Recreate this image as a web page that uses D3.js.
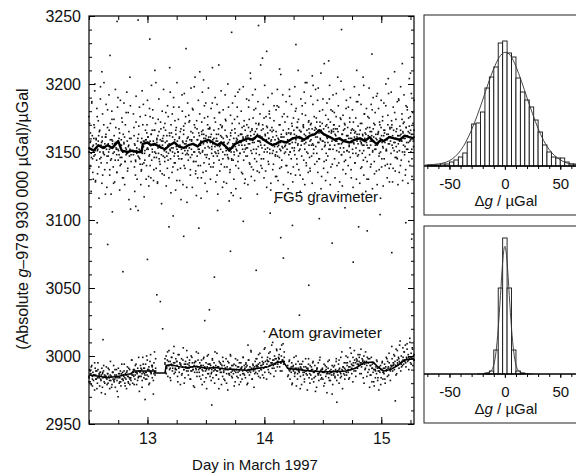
<!DOCTYPE html>
<html>
<head>
<meta charset="utf-8">
<script src="https://cdn.jsdelivr.net/npm/d3@7"></script>
<style>
  body { margin: 0; background: #fff; }
  svg { display: block; font-family: "Liberation Sans", Arial, Helvetica, sans-serif; }
</style>
</head>
<body>
<svg id="chart" width="576" height="476"></svg>
<script>
// ---- FG5 drops (µGal), regular sampling inside each run ----
const fg5Seg1 = [12.50, 12.86];
const fg5Vals1 = [
  3153,3171,3140,3158,3149,3186,3162,3135,3155,3147,3168,3151,
  3129,3160,3144,3176,3152,3158,3139,3165,3150,3198,3146,3157,
  3161,3133,3154,3170,3148,3156,3119,3163,3152,3142,3181,3155,
  3150,3166,3137,3159,3153,3145,3174,3158,3149,3127,3162,3156,
  3144,3168,3152,3135,3157,3190,3151,3148,3164,3140,3155,3159,
  3146,3172,3150,3131,3156,3161,3143,3153,3179,3149,3158,3138,
  3154,3165,3147,3152,3108,3160
];
const fg5Vals1b = [
  3176,3138,3164,3121,3187,3145,3130,3170,3195,3128,3159,3182,
  3134,3173,3116,3166,3189,3142,3127,3178,3150,3201,3137,3161,
  3185,3124,3168,3147,3192,3133,3171,3119,3180,3156,3139,3174,
  3128,3196,3153,3135,3183,3144,3167,3122,3188,3141,3175,3131,
  3163,3186,3126,3170,3148,3194,3136,3179,3115,3160,3184,3143
];
const fg5Vals1c = [
  3150,3157,3146,3154,3160,3148,3156,3151,3162,3145,3155,3158,
  3149,3153,3161,3147,3156,3152,3144,3159,3154,3150,3157,3148,
  3152,3160,3146,3155,3150,3157,3143,3152,3149,3155,3151,3148
];
const fg5Seg2 = [12.88, 15.28];
const fg5Vals2 = [
  3150,3168,3139,3155,3144,3172,3151,3130,3158,3147,3163,3152,
  3145,3176,3157,3136,3160,3149,3154,3185,3142,3158,3151,3166,
  3159,3140,3170,3153,3161,3132,3157,3148,3176,3155,3163,3144,
  3152,3181,3158,3137,3166,3150,3155,3201,3146,3159,3127,3162,
  3149,3165,3155,3141,3172,3153,3158,3134,3160,3147,3168,3151,
  3143,3157,3179,3150,3162,3138,3155,3149,3095,3164,3152,3145,
  3170,3156,3135,3161,3153,3183,3147,3159,3142,3166,3154,3129,
  3158,3150,3174,3145,3161,3155,3138,3167,3152,3192,3149,3157,
  3163,3140,3156,3171,3148,3153,3124,3160,3151,3144,3177,3155,
  3159,3137,3165,3152,3148,3182,3156,3143,3161,3150,3168,3134,
  3155,3173,3147,3159,3140,3164,3152,3209,3149,3158,3131,3163,
  3150,3166,3156,3142,3175,3153,3160,3136,3158,3148,3170,3154,
  3161,3145,3168,3157,3139,3163,3152,3186,3159,3147,3166,3058,
  3154,3172,3149,3160,3133,3158,3151,3167,3144,3179,3155,3162,
  3141,3157,3169,3150,3160,3128,3155,3148,3174,3153,3162,3139,
  3156,3146,3183,3152,3159,3137,3164,3150,3145,3171,3153,3118,
  3160,3148,3167,3154,3140,3158,3151,3176,3143,3162,3155,3196,
  3149,3163,3157,3135,3168,3152,3160,3144,3173,3155,3130,3161,
  3153,3170,3147,3162,3156,3188,3142,3159,3165,3151,3139,3166,
  3157,3175,3152,3163,3145,3160,3182,3149,3167,3136,3158,3154,
  3171,3148,3162,3157,3140,3166,3153,3219,3159,3145,3175,3155,
  3163,3136,3158,3169,3150,3164,3143,3160,3178,3152,3166,3127,
  3156,3168,3149,3161,3141,3173,3154,3159,3132,3165,3150,3184,
  3147,3160,3155,3170,3138,3157,3151,3163,3144,3176,3153,3072,
  3161,3149,3172,3155,3140,3164,3152,3158,3135,3167,3156,3191,
  3150,3163,3145,3171,3157,3160,3139,3166,3153,3148,3180,3159,
  3162,3141,3168,3156,3174,3151,3160,3133,3165,3155,3147,3178,
  3158,3169,3144,3163,3152,3186,3157,3140,3166,3161,3149,3172,
  3155,3164,3138,3170,3159,3147,3167,3156,3199,3152,3163,3141,
  3168,3154,3175,3149,3161,3135,3166,3157,3145,3172,3159,3123,
  3164,3152,3181,3158,3167,3143,3163,3155,3177,3149,3170,3160,
  3147,3168,3161,3189,3155,3172,3139,3166,3158,3180,3152,3165,
  3170,3145,3163,3158,3176,3151,3167,3205,3156,3142,3169,3160,
  3153,3174,3148,3163,3157,3137,3166,3150,3171,3159,3144,3182,
  3162,3151,3168,3140,3160,3155,3175,3146,3164,3131,3157,3167,
  3149,3172,3156,3161,3142,3165,3153,3187,3158,3147,3169,3095,
  3160,3151,3166,3138,3157,3171,3149,3162,3144,3155,3178,3159,
  3146,3163,3157,3130,3168,3153,3160,3175,3148,3165,3155,3141,
  3162,3181,3151,3167,3158,3143,3170,3155,3163,3136,3159,3193,
  3156,3165,3147,3172,3160,3150,3168,3139,3157,3176,3153,3162,
  3145,3166,3159,3184,3152,3163,3141,3170,3156,3161,3128,3167,
  3158,3149,3173,3155,3162,3138,3166,3151,3179,3146,3160,3154,
  3167,3145,3162,3156,3188,3151,3169,3140,3163,3158,3174,3150,
  3164,3155,3172,3148,3160,3137,3168,3157,3183,3152,3165,3143,
  3169,3158,3176,3150,3163,3145,3160,3171,3154,3166
];
const fg5Vals2b = [
  3178,3162,3121,3133,3191,3149,3150,3107,3169,3183,3141,3126,
  3137,3195,3170,3158,3117,3144,3177,3130,3164,3188,3152,3125,
  3182,3140,3131,3199,3166,3175,3129,3146,3210,3171,3138,3160,
  3128,3174,3189,3143,3136,3167,3112,3180,3158,3196,3133,3171,
  3166,3125,3147,3184,3176,3131,3162,3194,3120,3153,3178,3139,
  3190,3142,3173,3122,3168,3201,3137,3150,3183,3129,3165,3115,
  3145,3180,3126,3169,3193,3138,3176,3158,3113,3186,3148,3172,
  3173,3133,3197,3159,3124,3181,3143,3170,3205,3136,3118,3167,
  3131,3188,3150,3178,3140,3116,3172,3194,3135,3163,3184,3127,
  3186,3146,3121,3176,3197,3141,3167,3130,3182,3154,3212,3139,
  3142,3175,3190,3128,3163,3185,3119,3149,3179,3136,3170,3195,
  3168,3124,3181,3157,3139,3192,3173,3127,3161,3200,3145,3114,
  3135,3177,3120,3166,3186,3144,3130,3174,3191,3123,3160,3183,
  3194,3138,3171,3149,3116,3180,3163,3134,3198,3169,3127,3152,
  3147,3189,3162,3126,3183,3174,3141,3204,3132,3167,3192,3137,
  3181,3129,3196,3171,3143,3119,3187,3158,3135,3178,3214,3145,
  3138,3170,3185,3131,3199,3152,3176,3124,3168,3190,3141,3180,
  3175,3122,3159,3193,3137,3166,3184,3113,3148,3181,3132,3196,
  3129,3183,3146,3170,3207,3139,3161,3192,3126,3178,3154,3118,
  3187,3140,3176,3123,3164,3196,3150,3134,3185,3169,3128,3175,
  3151,3198,3133,3182,3145,3172,3210,3137,3166,3121,3189,3158,
  3184,3130,3168,3194,3126,3177,3142,3201,3160,3135,3173,3146,
  3136,3191,3155,3127,3185,3149,3176,3120,3196,3167,3143,3188,
  3197,3145,3180,3160,3208,3132,3171,3189,3138,3215,3157,3129,
  3144,3186,3135,3174,3152,3199,3126,3181,3165,3141,3192,3170,
  3179,3131,3167,3193,3140,3117,3184,3156,3128,3175,3202,3148,
  3125,3177,3196,3143,3170,3134,3188,3162,3119,3183,3150,3172,
  3190,3137,3160,3181,3124,3166,3198,3142,3175,3130,3163,3187,
  3148,3192,3127,3171,3185,3139,3155,3205,3133,3178,3164,3121,
  3182,3143,3176,3130,3197,3168,3139,3185,3158,3123,3190,3171,
  3134,3179,3152,3191,3126,3163,3182,3137,3170,3116,3188,3145,
  3173,3125,3186,3164,3140,3200,3151,3131,3177,3193,3138,3168,
  3141,3194,3170,3128,3183,3157,3209,3136,3174,3146,3187,3126,
  3189,3135,3162,3198,3144,3178,3129,3171,3192,3150,3133,3184,
  3152,3181,3127,3175,3204,3140,3166,3193,3132,3179,3158,3188
];
const fg5Vals2c = [
  3148,3156,3143,3153,3160,3146,3151,3157,3141,3154,3149,3159,
  3152,3161,3147,3158,3163,3150,3155,3166,3149,3157,3153,3145,
  3159,3148,3155,3162,3146,3153,3158,3144,3156,3151,3164,3150,
  3157,3149,3163,3152,3147,3160,3154,3145,3158,3166,3151,3156,
  3149,3161,3153,3146,3158,3164,3150,3155,3143,3159,3152,3162,
  3155,3165,3151,3160,3148,3162,3157,3167,3153,3161,3149,3156,
  3160,3150,3158,3147,3163,3154,3152,3161,3145,3157,3166,3151,
  3148,3157,3153,3162,3144,3156,3150,3164,3152,3159,3147,3158,
  3163,3155,3161,3150,3166,3158,3153,3168,3156,3162,3149,3160,
  3157,3165,3152,3163,3170,3158,3155,3161,3167,3150,3162,3159,
  3153,3160,3149,3158,3165,3151,3156,3147,3162,3154,3159,3152,
  3161,3154,3166,3157,3150,3163,3159,3148,3156,3164,3153,3160,
  3163,3157,3168,3155,3161,3152,3165,3159,3170,3156,3162,3150,
  3160,3167,3158,3171,3163,3155,3166,3161,3172,3157,3164,3169,
  3166,3158,3163,3154,3169,3161,3157,3165,3152,3164,3160,3167,
  3155,3162,3158,3165,3150,3160,3156,3163,3153,3167,3159,3151,
  3162,3154,3160,3166,3152,3157,3164,3149,3161,3156,3163,3158,
  3156,3163,3151,3160,3167,3155,3162,3153,3158,3165,3150,3161,
  3152,3160,3155,3164,3149,3158,3162,3154,3166,3157,3151,3159,
  3163,3156,3161,3168,3153,3160,3157,3165,3150,3162,3158,3166,
  3158,3165,3160,3154,3168,3162,3157,3164,3159,3152,3163,3161
];
// isolated FG5 drops far from the band: [day, µGal]
const fg5Outliers = [
  [12.74,3246],[12.92,3247],[12.68,3221],[12.61,3209],[12.85,3205],[13.02,3233],
  [13.19,3212],[13.33,3226],[13.48,3203],[13.61,3214],[13.72,3238],[13.88,3208],
  [14.02,3224],[14.13,3211],[14.27,3229],[14.41,3206],[14.55,3217],[14.66,3240],
  [14.79,3210],[14.92,3222],[15.06,3204],[15.18,3215],[13.95,3243],[12.55,3200],
  [13.40,3198],[14.35,3201],[14.85,3199],[15.25,3208],
  [12.57,3098],[12.66,3082],[12.79,3062],[12.90,3110],[13.00,3071],[13.08,3045],
  [13.22,3103],[13.31,3088],[13.44,3094],[13.53,3034],[13.60,3107],[13.71,3077],
  [13.82,3099],[13.93,3063],[14.05,3105],[14.14,3087],[14.24,3096],[14.38,3052],
  [14.47,3101],[14.58,3083],[14.69,3109],[14.76,3069],[14.88,3092],[14.99,3104],
  [15.09,3076],[15.21,3098],[13.13,3020],[14.30,3030],[12.70,3106],[15.26,3086]
];
// FG5 running mean: [day, µGal]
const fg5Mean = [
  [12.50,3153],[12.54,3151],[12.58,3155],[12.62,3153],[12.66,3155],[12.70,3153],
  [12.75,3158],[12.78,3151],[12.83,3150],[12.87,3151],[12.91,3150],[12.95,3150],
  [12.96,3156],[13.00,3157],[13.03,3155],[13.06,3156],[13.10,3154],[13.15,3152],
  [13.19,3155],[13.23,3157],[13.27,3154],[13.31,3153],[13.35,3155],[13.39,3156],
  [13.43,3154],[13.46,3157],[13.52,3159],[13.56,3157],[13.60,3155],[13.63,3157],
  [13.67,3154],[13.70,3151],[13.75,3156],[13.80,3158],[13.86,3160],[13.90,3159],
  [13.94,3162],[13.98,3160],[14.03,3157],[14.07,3155],[14.10,3156],[14.14,3158],
  [14.19,3157],[14.24,3160],[14.30,3161],[14.34,3159],[14.39,3162],[14.43,3163],
  [14.47,3166],[14.51,3163],[14.56,3161],[14.60,3159],[14.64,3160],[14.68,3158],
  [14.73,3157],[14.77,3159],[14.82,3160],[14.86,3158],[14.90,3161],[14.93,3158],
  [14.96,3156],[15.00,3159],[15.02,3158],[15.07,3161],[15.11,3160],[15.16,3159],
  [15.20,3162],[15.24,3161],[15.28,3160]
];

// ---- Atom gravimeter (µGal), three runs ----
const atomSeg1 = [12.50, 13.07];
const atomVals1 = [
  2984,2990,2981,2987,2979,2993,2985,2988,2982,2986,2975,2991,2986,2983,2989,2980,2995,2985,2987,2978,
  2988,2983,2986,2991,2977,2984,2989,2981,2986,2972,2985,2992,2983,2987,2980,2985,2990,2976,2986,2982,
  2985,2979,2988,2983,2993,2981,2986,2977,2984,2990,2982,2985,2970,2987,2980,2984,2989,2978,2986,2983,
  2988,2982,2985,2994,2980,2987,2983,2976,2989,2985,2981,2991,2984,2979,2987,2982,2997,2986,2980,2988,
  2985,2990,2983,2988,2994,2979,2987,2991,2984,2989,2974,2988,2993,2985,2990,2982,2999,2988,2984,2991,
  2986,2994,2988,2983,2997,2990,2985,2992,2980,2989,3001,2987,2993,2984,2990,2972,2995,2988,2986,2998
];
const atomVals1b = [
  2981,2989,2992,2978,2986,2995,2983,2976,2990,2984,2988,2973,
  2987,2993,2980,2985,2979,2991,2984,2996,2977,2988,2982,2990,
  2985,2974,2991,2987,2981,2994,2983,2989,2978,2986,2992,2980,
  2990,2984,2997,2986,2979,2993,2988,2982,2999,2985,2991,2977,
  2994,2987,2983,3000,2990,2979,2996,2988,2993,2982,3003,2991
];
const atomVals1c = [
  2985,2987,2983,2986,2989,2984,2986,2982,2988,2985,
  2984,2987,2982,2985,2988,2983,2986,2984,2981,2987,
  2986,2984,2988,2985,2983,2987,2990,2986,2988,2985,
  2989,2987,2991,2988,2986,2990,2988,2992,2987,2989
];
const atomSeg2 = [13.15, 14.17];
const atomVals2 = [
  2995,2988,3000,2991,2997,2985,2993,3004,2990,2996,2982,2994,2999,2989,2993,3002,2987,2995,2991,2998,
  2990,2996,2985,3001,2992,2988,2995,2979,2993,2998,2987,2992,3006,2990,2994,2984,2996,2991,2989,2999,
  2994,2986,2991,2997,2983,2992,3000,2989,2995,2990,2978,2993,2988,2996,2991,3003,2985,2992,2997,2990,
  2988,2995,2991,2983,2997,2990,2986,2993,2999,2981,2991,2989,2995,2976,2992,2987,3001,2990,2994,2985,
  2993,2987,2990,2998,2984,2991,2995,2980,2990,2993,2986,3002,2989,2992,2983,2996,2990,2988,2994,2979,
  2991,2985,2996,2989,2993,2982,2990,2998,2987,2992,2975,2990,2995,2986,2991,3000,2988,2993,2984,2990,
  2987,2994,2989,2981,2993,2990,2985,2997,2988,2992,2979,2990,2986,2995,2991,2983,2989,2999,2987,2993,
  2991,2984,2995,2989,2993,2980,2990,2997,2986,2992,2988,3003,2990,2983,2994,2989,2977,2992,2996,2988,
  2993,2998,2987,2992,3001,2989,2995,2984,2993,2990,2999,2986,2994,2991,3005,2988,2996,2992,2983,2997,
  2996,2990,3002,2993,2998,2987,2995,3008,2991,2997,2993,2985,3000,2994,2989,2998,3004,2992,2996,2999,
  2998,2992,3005,2995,3000,2989,2997,3009,2994,2999
];
const atomVals2b = [
  2998,2987,3003,2993,2984,2999,2991,3007,2988,2996,2981,3001,
  2994,2986,2997,2980,2992,3004,2989,2995,2983,2999,2990,2977,
  2996,2988,3002,2985,2993,2979,2998,2991,2984,3000,2987,2994,
  2982,2997,2989,3003,2986,2992,2976,2995,2988,2999,2983,2991,
  2980,2996,2987,3001,2985,2993,2978,2998,2990,2984,2995,2981,
  2992,2999,2986,2994,2979,2997,2989,3004,2983,2991,2987,2998,
  2993,2985,3002,2990,2996,2984,3006,2992,2999,2988,3003,2995,
  3010,2991,2998,3005,2994,3001,2989,3008,2996,3003
];
const atomVals2c = [
  2994,2992,2996,2991,2993,2995,2990,2993,2991,2994,
  2992,2990,2994,2991,2993,2989,2992,2995,2990,2992,
  2991,2993,2989,2992,2990,2994,2991,2988,2992,2990,
  2989,2992,2990,2993,2988,2991,2990,2987,2991,2989,
  2990,2988,2992,2989,2991,2987,2990,2992,2988,2990,
  2991,2993,2990,2992,2994,2991,2993,2995,2992,2994,
  2996,2993,2995,2997,2994,2996,2998,2995,2997,2996
];
const atomSeg3 = [14.20, 15.28];
const atomVals3 = [
  2993,2986,2990,2997,2983,2991,2988,2995,2980,2992,2989,2999,2985,2991,2994,2978,2990,2987,2996,2989,
  2988,2994,2985,2991,2979,2990,2996,2986,2992,2983,2989,2998,2987,2991,2975,2990,2994,2984,2989,2993,
  2986,2992,2983,2990,2996,2981,2988,2993,2985,2989,2977,2991,2987,2995,2982,2988,2999,2986,2990,2984,
  2990,2983,2988,2994,2980,2989,2985,2992,2973,2988,2991,2984,2997,2987,2982,2990,2986,2993,2979,2989,
  2987,2993,2984,2990,2996,2982,2989,2986,2994,2980,2991,2988,2999,2985,2990,2976,2992,2987,2995,2983,
  2990,2995,2986,2993,2999,2988,2992,2984,2996,2990,3002,2987,2993,2981,2995,2989,2997,2991,2985,2998,
  2996,2991,3001,2994,2999,2987,2995,3005,2992,2998,2994,2984,3000,2996,2990,3003,2995,2993,2999,2988,
  2995,2990,2998,2986,2993,2999,2981,2991,2988,2995,2978,2990,2984,2992,2987,2996,2982,2989,2975,2991,
  2988,2993,2984,2990,2996,2983,2991,2987,2994,2980,2992,2989,2998,2985,2991,2986,2995,2990,2982,2993,
  2992,2998,2989,2995,3001,2990,2996,2993,3005,2987,2997,2994,2999,2991,3008,2995,2989,3000,2996,2993,
  2999,2994,3003,2997,3008,2992,2999,3005,2996,3001,2990,2998,3010,2995,3002,2999,3006,2993,3000,2997
];
const atomVals3b = [
  2985,2996,2990,2979,2993,2987,3000,2983,2991,2976,2994,2988,
  2981,2992,2986,2998,2980,2989,2995,2984,2974,2990,2986,2997,
  2983,2991,2978,2993,2987,2996,2982,2988,2972,2992,2985,2998,
  2989,2997,2984,3003,2992,2986,3000,2995,2983,3006,2994,2999,
  3004,2989,2997,2993,3001,2987,2996,2980,2991,2985,2998,2977,
  2986,2994,2981,2990,2997,2984,2992,2979,2995,2988,2983,2999,
  2996,3002,2989,3007,2993,3000,2986,3004,2998,3011,2992,3006,
  3003,2995,3009,2999,3013,2994,3005,3001
];
const atomVals3c = [
  2991,2989,2992,2990,2988,2991,2989,2992,2990,2988,
  2989,2991,2987,2990,2988,2989,2991,2987,2989,2988,
  2988,2990,2987,2989,2988,2986,2989,2988,2990,2987,
  2989,2991,2988,2990,2992,2991,2993,2995,2994,2996,
  2995,2997,2994,2996,2995,2993,2991,2990,2989,2991,
  2989,2990,2988,2991,2990,2992,2991,2993,2994,2993,
  2995,2996,2994,2997,2996,2998,2997,2999,2998,2997
];
const atomOutliers = [
  [13.11,3040],[13.49,3026],[12.62,3012],[14.45,3015],[13.86,3008],[14.00,3018],
  [12.98,2968],[13.55,2964],[14.62,2966],[15.12,2967]
];
const atomMean = [
  [12.50,2986],[12.55,2985.5],[12.60,2985],[12.65,2984],[12.70,2984.5],[12.75,2985],
  [12.80,2986],[12.86,2987],[12.88,2989],[12.95,2989],[13.02,2989],[13.06,2989],
  [13.07,2987.5],[13.15,2987.5],[13.16,2993],[13.20,2993.5],[13.28,2992],[13.35,2991.5],
  [13.42,2992.5],[13.50,2991],[13.58,2991.5],[13.66,2990.5],[13.75,2990],[13.85,2989.5],
  [13.95,2991],[14.03,2992],[14.10,2995],[14.16,2996],[14.20,2991],[14.28,2990],
  [14.40,2989],[14.50,2988.5],[14.60,2988.5],[14.70,2989],[14.78,2991],[14.85,2995],
  [14.93,2995.5],[14.97,2992],[15.02,2989],[15.08,2990],[15.14,2993],[15.20,2997],
  [15.28,2998]
];

// ---- histograms of residuals Δg (µGal), 4 µGal bins ----
const fg5BinCenters = [-68,-64,-60,-56,-52,-48,-44,-40,-36,-32,-28,-24,-20,-16,-12,-8,-4,0,
                        4,8,12,16,20,24,28,32,36,40,44,48,52,56,60,64];
const fg5Counts = [1,1,1,2,2,4,6,9,13,24,42,43,54,78,89,99,123,125,
                   113,109,88,74,66,59,46,34,21,14,9,8,8,4,2,2];
const fg5FitX = [-72,-65,-60,-55,-50,-45,-40,-35,-30,-25,-20,-15,-10,-5,0,5,10,15,20,25,30,35,40,45,50,55,60,66];
const fg5FitY = [1,1.5,2,3,5,9,15,24,36,50,66,83,98,110,115,112,100,85,68,52,37,25,16,10,6,3,2,1];

const atomBinCenters = [-16,-12,-8,-4,0,4,8,12,16];
const atomCounts = [1,3,24,86,136,86,24,3,1];
const atomFitX = [-25,-15,-12,-10,-8,-6,-4,-2,0,2,4,6,8,10,12,15,25];
const atomFitY = [0,0.5,3,8,20,44,78,115,134,115,78,44,20,8,3,0.5,0];

const yMajor = [2950,3000,3050,3100,3150,3200,3250];
const xMajor = [13,14,15];
const histTicks = [-50,0,50];

// ---- layout ----
const svg = d3.select("#chart");
const x = d3.scaleLinear().domain([12.5, 15.28]).range([89, 414]);
const y = d3.scaleLinear().domain([2950, 3250]).range([424, 16]);

// sample times are evenly spaced inside each run
function spread(seg, vals) {
  const step = (seg[1] - seg[0]) / (vals.length - 1);
  return vals.map((v, i) => [seg[0] + i * step, v]);
}

const fg5Pts = [].concat(
  spread(fg5Seg1, fg5Vals1), spread(fg5Seg1, fg5Vals1b), spread(fg5Seg1, fg5Vals1c),
  spread(fg5Seg2, fg5Vals2), spread(fg5Seg2, fg5Vals2b), spread(fg5Seg2, fg5Vals2c),
  fg5Outliers);
const atomPts = [].concat(
  spread(atomSeg1, atomVals1), spread(atomSeg1, atomVals1b), spread(atomSeg1, atomVals1c),
  spread(atomSeg2, atomVals2), spread(atomSeg2, atomVals2b), spread(atomSeg2, atomVals2c),
  spread(atomSeg3, atomVals3), spread(atomSeg3, atomVals3b), spread(atomSeg3, atomVals3c),
  atomOutliers);

const plot = svg.append("g");

// points
plot.selectAll("rect.pt")
  .data(fg5Pts.concat(atomPts))
  .enter().append("rect")
  .attr("class", "pt")
  .attr("x", d => x(d[0]) - 0.8)
  .attr("y", d => y(d[1]) - 0.8)
  .attr("width", 1.6).attr("height", 1.6)
  .attr("fill", "#111");

const line = d3.line().x(d => x(d[0])).y(d => y(d[1]));
plot.append("path").datum(fg5Mean).attr("fill", "none")
  .attr("stroke", "#000").attr("stroke-width", 2.4).attr("stroke-linejoin", "round")
  .attr("d", line);
plot.append("path").datum(atomMean).attr("fill", "none")
  .attr("stroke", "#000").attr("stroke-width", 1.5)
  .attr("d", line);

// axes (ticks inward)
const yMinor = d3.range(2950, 3251, 10);
const xMinor = d3.range(12.5, 15.3, 0.25);

function ticksOnly(g) { g.select(".domain").remove(); g.selectAll("text").remove(); }

svg.append("g").attr("transform", "translate(89,0)")
  .call(d3.axisLeft(y).tickValues(yMinor).tickSize(-3)).call(ticksOnly);
svg.append("g").attr("transform", "translate(414,0)")
  .call(d3.axisRight(y).tickValues(yMinor).tickSize(-3)).call(ticksOnly);
svg.append("g").attr("transform", "translate(414,0)")
  .call(d3.axisRight(y).tickValues(yMajor).tickSize(-6)).call(ticksOnly);
svg.append("g").attr("transform", "translate(0,424)")
  .call(d3.axisBottom(x).tickValues(xMinor).tickSize(-4)).call(ticksOnly);
svg.append("g").attr("transform", "translate(0,16)")
  .call(d3.axisTop(x).tickValues(xMinor).tickSize(-4)).call(ticksOnly);
svg.append("g").attr("transform", "translate(0,16)")
  .call(d3.axisTop(x).tickValues(xMajor).tickSize(-7)).call(ticksOnly);

const yAxis = svg.append("g").attr("transform", "translate(89,0)")
  .call(d3.axisLeft(y).tickValues(yMajor).tickSize(-6).tickPadding(8).tickFormat(d3.format("d")));
yAxis.select(".domain").remove();
yAxis.selectAll("text").attr("font-size", 16).attr("fill", "#111").attr("font-family", null);

const xAxis = svg.append("g").attr("transform", "translate(0,424)")
  .call(d3.axisBottom(x).tickValues(xMajor).tickSize(-7).tickPadding(9).tickFormat(d3.format("d")));
xAxis.select(".domain").remove();
xAxis.selectAll("text").attr("font-size", 16).attr("fill", "#111").attr("font-family", null);

svg.selectAll(".tick line").attr("stroke", "#000");

svg.append("rect").attr("x", 89).attr("y", 16).attr("width", 325).attr("height", 408)
  .attr("fill", "none").attr("stroke", "#000").attr("stroke-width", 1.2);

// labels
svg.append("text").attr("x", 326).attr("y", 202).attr("text-anchor", "middle")
  .attr("font-size", 15).attr("fill", "#111").text("FG5 gravimeter");
svg.append("text").attr("x", 325).attr("y", 338).attr("text-anchor", "middle")
  .attr("font-size", 15.5).attr("fill", "#111").text("Atom gravimeter");

svg.append("text").attr("x", 255).attr("y", 470).attr("text-anchor", "middle")
  .attr("font-size", 15).attr("fill", "#111").text("Day in March 1997");

const yt = svg.append("text").attr("transform", "translate(28,219) rotate(-90)")
  .attr("text-anchor", "middle").attr("font-size", 16).attr("fill", "#111");
yt.append("tspan").text("(Absolute ");
yt.append("tspan").attr("font-style", "italic").text("g");
yt.append("tspan").text("\u2013979 930 000 \u00b5Gal)/\u00b5Gal");

// histograms
const hx = d3.scaleLinear().domain([-73, 66]).range([424, 578]);

function histogram(top, bottom, base, peak, centers, counts, fitX, fitY) {
  const hy = d3.scaleLinear().domain([0, peak]).range([base, base - peak]);
  const g = svg.append("g");
  g.append("rect").attr("x", 424).attr("y", top).attr("width", 160).attr("height", bottom - top)
    .attr("fill", "#fff").attr("stroke", "#222").attr("stroke-width", 1);

  g.selectAll("rect.bar").data(centers).enter().append("rect")
    .attr("class", "bar")
    .attr("x", c => hx(c - 2))
    .attr("width", c => hx(c + 2) - hx(c - 2))
    .attr("y", (c, i) => hy(counts[i]))
    .attr("height", (c, i) => base - hy(counts[i]))
    .attr("fill", "#fff").attr("stroke", "#111").attr("stroke-width", 0.9);

  g.append("path").datum(fitX.map((v, i) => [v, fitY[i]]))
    .attr("fill", "none").attr("stroke", "#333").attr("stroke-width", 0.9)
    .attr("d", d3.line().x(d => hx(d[0])).y(d => hy(d[1])).curve(d3.curveBasis));

  g.append("line").attr("x1", 424).attr("x2", 578).attr("y1", base).attr("y2", base)
    .attr("stroke", "#000").attr("stroke-width", 1.6);

  g.append("g").attr("transform", `translate(0,${base})`)
    .call(d3.axisBottom(hx).tickValues(d3.range(-70, 66, 10)).tickSize(3)).call(ticksOnly);
  const ax = g.append("g").attr("transform", `translate(0,${base})`)
    .call(d3.axisBottom(hx).tickValues(histTicks).tickSize(4).tickPadding(8).tickFormat(d3.format("d")));
  ax.select(".domain").remove();
  ax.selectAll("text").attr("font-size", 15).attr("fill", "#111").attr("font-family", null)
    .text(d => d < 0 ? "-" + Math.abs(d) : d);
  g.selectAll(".tick line").attr("stroke", "#000");

  const t = g.append("text").attr("x", 506).attr("y", base + 40).attr("text-anchor", "middle")
    .attr("font-size", 15).attr("fill", "#111");
  t.append("tspan").text("\u0394");
  t.append("tspan").attr("font-style", "italic").text("g");
  t.append("tspan").text(" / \u00b5Gal");
}

histogram(15, 215, 166, 125, fg5BinCenters, fg5Counts, fg5FitX, fg5FitY);
histogram(226, 423, 374, 136, atomBinCenters, atomCounts, atomFitX, atomFitY);
</script>
</body>
</html>
